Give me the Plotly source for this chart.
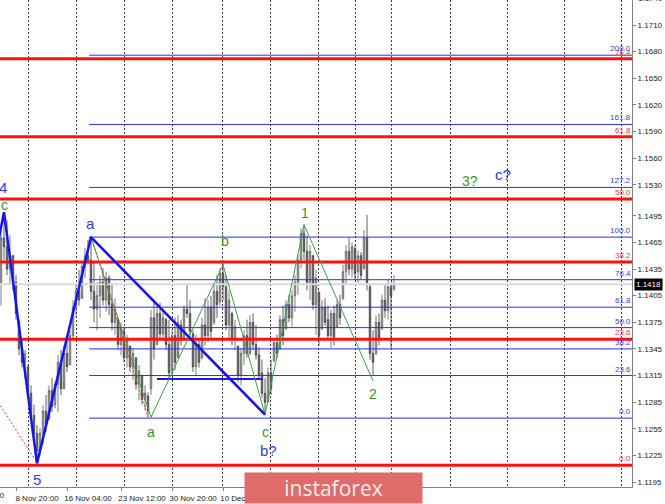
import plotly.graph_objects as go

# ---------------- data ----------------
opens = [
    1.1420, 1.1470, 1.1460, 1.1435, 1.1450, 1.1420, 1.1375, 1.1345, 1.1330, 1.1325,
    1.1295, 1.1270, 1.1250, 1.1230, 1.1250, 1.1275, 1.1266, 1.1298, 1.1282, 1.1305,
    1.1330, 1.1300, 1.1340, 1.1327, 1.1360, 1.1392, 1.1410, 1.1402, 1.1438, 1.1450,
    1.1445, 1.1410, 1.1390, 1.1405, 1.1420, 1.1400, 1.1425, 1.1395, 1.1375, 1.1378,
    1.1350, 1.1365, 1.1335, 1.1348, 1.1325, 1.1335, 1.1305, 1.1315, 1.1288, 1.1292,
    1.1300, 1.1380, 1.1350, 1.1385, 1.1362, 1.1378, 1.1350, 1.1320, 1.1360, 1.1335,
    1.1372, 1.1358, 1.1390, 1.1385, 1.1362, 1.1325, 1.1350, 1.1335, 1.1372, 1.1360,
    1.1392, 1.1375, 1.1410, 1.1398, 1.1430, 1.1415, 1.1372, 1.1385, 1.1355, 1.1348,
    1.1315, 1.1340, 1.1360, 1.1340, 1.1375, 1.1350, 1.1338, 1.1318, 1.1295, 1.1285,
    1.1318, 1.1332, 1.1352, 1.1345, 1.1378, 1.1368, 1.1395, 1.1380, 1.1405, 1.1420,
    1.1445, 1.1475, 1.1455, 1.1420, 1.1450, 1.1395, 1.1408, 1.1368, 1.1392, 1.1378,
    1.1360, 1.1385, 1.1370, 1.1395, 1.1402, 1.1432, 1.1455, 1.1435, 1.1458, 1.1432,
    1.1450, 1.1436, 1.1470, 1.1415, 1.1340, 1.1340, 1.1375, 1.1368, 1.1400, 1.1388,
    1.1415, 1.1412,
]
highs = [
    1.1479, 1.1499, 1.1490, 1.1473, 1.1451, 1.1428, 1.1378, 1.1355, 1.1344, 1.1327,
    1.1304, 1.1282, 1.1259, 1.1256, 1.1282, 1.1293, 1.1304, 1.1312, 1.1308, 1.1338,
    1.1344, 1.1349, 1.1361, 1.1366, 1.1400, 1.1417, 1.1434, 1.1443, 1.1459, 1.1468,
    1.1471, 1.1443, 1.1420, 1.1428, 1.1436, 1.1432, 1.1428, 1.1417, 1.1402, 1.1380,
    1.1375, 1.1369, 1.1361, 1.1349, 1.1346, 1.1335, 1.1327, 1.1316, 1.1304, 1.1296,
    1.1389, 1.1400, 1.1394, 1.1397, 1.1389, 1.1380, 1.1378, 1.1366, 1.1380, 1.1383,
    1.1378, 1.1394, 1.1417, 1.1400, 1.1366, 1.1361, 1.1355, 1.1380, 1.1402, 1.1400,
    1.1405, 1.1417, 1.1428, 1.1436, 1.1442, 1.1428, 1.1411, 1.1387, 1.1378, 1.1349,
    1.1346, 1.1366, 1.1378, 1.1383, 1.1385, 1.1372, 1.1347, 1.1333, 1.1312, 1.1324,
    1.1333, 1.1357, 1.1361, 1.1383, 1.1394, 1.1400, 1.1406, 1.1411, 1.1428, 1.1451,
    1.1481, 1.1485, 1.1473, 1.1462, 1.1451, 1.1434, 1.1411, 1.1400, 1.1402, 1.1394,
    1.1389, 1.1394, 1.1400, 1.1406, 1.1440, 1.1462, 1.1470, 1.1465, 1.1462, 1.1456,
    1.1454, 1.1479, 1.1496, 1.1417, 1.1366, 1.1383, 1.1385, 1.1406, 1.1417, 1.1423,
    1.1420, 1.1428,
]
lows = [
    1.1394, 1.1445, 1.1428, 1.1417, 1.1411, 1.1378, 1.1338, 1.1324, 1.1312, 1.1290,
    1.1265, 1.1242, 1.1217, 1.1225, 1.1237, 1.1251, 1.1265, 1.1274, 1.1278, 1.1274,
    1.1293, 1.1308, 1.1319, 1.1327, 1.1355, 1.1380, 1.1394, 1.1406, 1.1425, 1.1440,
    1.1400, 1.1375, 1.1366, 1.1380, 1.1394, 1.1387, 1.1383, 1.1366, 1.1361, 1.1344,
    1.1338, 1.1330, 1.1324, 1.1319, 1.1310, 1.1299, 1.1287, 1.1282, 1.1276, 1.1268,
    1.1293, 1.1333, 1.1349, 1.1355, 1.1357, 1.1344, 1.1310, 1.1316, 1.1321, 1.1342,
    1.1349, 1.1355, 1.1380, 1.1361, 1.1319, 1.1315, 1.1324, 1.1333, 1.1349, 1.1353,
    1.1357, 1.1372, 1.1380, 1.1394, 1.1400, 1.1366, 1.1355, 1.1349, 1.1344, 1.1308,
    1.1304, 1.1327, 1.1335, 1.1338, 1.1344, 1.1333, 1.1310, 1.1290, 1.1273, 1.1285,
    1.1293, 1.1330, 1.1335, 1.1344, 1.1349, 1.1366, 1.1375, 1.1370, 1.1387, 1.1406,
    1.1436, 1.1445, 1.1411, 1.1400, 1.1389, 1.1361, 1.1349, 1.1366, 1.1371, 1.1355,
    1.1346, 1.1349, 1.1369, 1.1372, 1.1400, 1.1417, 1.1428, 1.1425, 1.1423, 1.1420,
    1.1423, 1.1434, 1.1411, 1.1333, 1.1316, 1.1338, 1.1349, 1.1366, 1.1380, 1.1378,
    1.1346, 1.1411,
]
closes = [
    1.1470, 1.1460, 1.1435, 1.1450, 1.1420, 1.1385, 1.1345, 1.1330, 1.1340, 1.1295,
    1.1270, 1.1250, 1.1230, 1.1250, 1.1275, 1.1260, 1.1298, 1.1280, 1.1305, 1.1330,
    1.1300, 1.1340, 1.1325, 1.1360, 1.1392, 1.1410, 1.1400, 1.1438, 1.1450, 1.1445,
    1.1410, 1.1390, 1.1405, 1.1420, 1.1400, 1.1425, 1.1395, 1.1375, 1.1390, 1.1350,
    1.1368, 1.1335, 1.1355, 1.1325, 1.1340, 1.1305, 1.1320, 1.1288, 1.1295, 1.1275,
    1.1380, 1.1345, 1.1385, 1.1362, 1.1380, 1.1350, 1.1318, 1.1360, 1.1330, 1.1375,
    1.1355, 1.1390, 1.1385, 1.1365, 1.1325, 1.1350, 1.1330, 1.1372, 1.1360, 1.1392,
    1.1365, 1.1410, 1.1395, 1.1430, 1.1415, 1.1372, 1.1400, 1.1355, 1.1370, 1.1315,
    1.1340, 1.1360, 1.1340, 1.1375, 1.1350, 1.1338, 1.1315, 1.1295, 1.1285, 1.1318,
    1.1300, 1.1352, 1.1340, 1.1378, 1.1360, 1.1395, 1.1380, 1.1405, 1.1420, 1.1445,
    1.1475, 1.1455, 1.1420, 1.1455, 1.1395, 1.1425, 1.1360, 1.1392, 1.1375, 1.1360,
    1.1385, 1.1355, 1.1395, 1.1380, 1.1432, 1.1455, 1.1435, 1.1460, 1.1430, 1.1450,
    1.1428, 1.1470, 1.1420, 1.1340, 1.1330, 1.1375, 1.1355, 1.1400, 1.1388, 1.1415,
    1.1405, 1.1418,
]
bars = list(range(len(opens)))
last_price = 1.1418

# x-axis time labels (bar index where each label sits)
time_tick_bars = [5, 22, 40, 57, 74]
time_tick_labels = ["8 Nov 20:00", "16 Nov 04:00", "23 Nov 12:00", "30 Nov 20:00", "10 Dec 04:00"]
cut_label = "1 Nov 12:00"
grid_bars = [9, 25.3, 41.3, 57.3, 73.7, 89.7, 105.7, 118, 130.3, 149.7, 168.7, 187.7, 206.7]

# price axis labels
price_ticks = [1.1710, 1.1680, 1.1650, 1.1620, 1.1590, 1.1560, 1.1530, 1.1495,
               1.1465, 1.1435, 1.1405, 1.1375, 1.1345, 1.1315, 1.1285, 1.1255, 1.1225, 1.1195]
top_cut_tick = 1.1740

# Fibonacci levels
red_fib_labels = ["0.0", "23.6", "38.2", "50.0", "61.8", "76.4"]
red_fib_prices = [1.1214, 1.1356, 1.1443, 1.1514, 1.1584, 1.1672]
blue_fib_labels = ["0.0", "23.6", "38.2", "50.0", "61.8", "76.4", "100.0", "127.2", "161.8", "200.0"]
blue_fib_prices = [1.1267, 1.1315, 1.1345, 1.1369, 1.1392, 1.1423, 1.1471, 1.1527, 1.1598, 1.1676]
blue_fib_start_bar = 29.4

# wave lines
blue_wave_bars = [-1, 1, 12, 30, 88]
blue_wave_prices = [1.1465, 1.1499, 1.1216, 1.1471, 1.1271]
green_wave_bars = [30, 50, 74, 88, 101, 124]
green_wave_prices = [1.1471, 1.1268, 1.1440, 1.1271, 1.1485, 1.1309]
red_dot1_bars = [30, 49]
red_dot1_prices = [1.1471, 1.1268]
red_dot2_bars = [-1, 12]
red_dot2_prices = [1.1285, 1.1217]
blue_hline_bars = [52, 87.3]
blue_hline_price = 1.1311

# wave labels
blue_labels = ["4", "5", "a", "b?", "c?"]
blue_label_bars = [0.67, 12, 29.7, 89, 167.3]
blue_label_prices = [1.1527, 1.1198, 1.1486, 1.1231, 1.1541]
green_labels = ["c", "a", "b", "c", "1", "2", "3?"]
green_label_bars = [1.0, 50, 74.7, 88.3, 101.3, 124, 156.3]
green_label_prices = [1.1507, 1.1251, 1.1467, 1.1251, 1.1498, 1.1294, 1.1534]

# ---------------- layout constants ----------------
X_LO, X_HI = -1 / 3, 631 / 3
Y_LO, Y_HI = 1.11894, 1.17382
RED = "#ff1010"
BLUE = "#2a2aff"
GREEN = "#3a962c"
FONT = "Liberation Sans"

fig = go.Figure()

# bid line
fig.add_trace(go.Scatter(x=[X_LO, X_HI], y=[last_price, last_price], mode="lines",
                         line=dict(color="#d9d9d9", width=2), hoverinfo="skip"))

# candles
fig.add_trace(go.Candlestick(
    x=bars, open=opens, high=highs, low=lows, close=closes,
    increasing=dict(line=dict(color="#5e5e5e", width=0.8), fillcolor="#b4b4b4"),
    decreasing=dict(line=dict(color="#3a3a3a", width=0.8), fillcolor="#7c7c7c"),
    whiskerwidth=0, hoverinfo="skip"))

# red fib lines
for p in red_fib_prices:
    fig.add_trace(go.Scatter(x=[X_LO, X_HI], y=[p, p], mode="lines",
                             line=dict(color=RED, width=3), hoverinfo="skip"))
# blue fib lines
for p in blue_fib_prices:
    fig.add_trace(go.Scatter(x=[blue_fib_start_bar, X_HI], y=[p, p], mode="lines",
                             line=dict(color=BLUE, width=1), hoverinfo="skip"))

# blue horizontal segment
fig.add_trace(go.Scatter(x=blue_hline_bars, y=[blue_hline_price] * 2, mode="lines",
                         line=dict(color="#1a1aee", width=2), hoverinfo="skip"))

# red dotted lines
for xs, ys in [(red_dot1_bars, red_dot1_prices), (red_dot2_bars, red_dot2_prices)]:
    fig.add_trace(go.Scatter(x=xs, y=ys, mode="lines",
                             line=dict(color="#ff3030", width=1, dash="2px,2px"), hoverinfo="skip"))

# green zigzag
fig.add_trace(go.Scatter(x=green_wave_bars, y=green_wave_prices, mode="lines",
                         line=dict(color="#3f9f3f", width=1), hoverinfo="skip"))
# blue zigzag
fig.add_trace(go.Scatter(x=blue_wave_bars, y=blue_wave_prices, mode="lines",
                         line=dict(color="#1414f0", width=2.5), hoverinfo="skip"))

annotations = []
for t, xb, yp in zip(blue_labels, blue_label_bars, blue_label_prices):
    annotations.append(dict(x=xb, y=yp, xref="x", yref="y", text=t, showarrow=False,
                            font=dict(family=FONT, size=15, color="#2b3cf0")))
for t, xb, yp in zip(green_labels, green_label_bars, green_label_prices):
    annotations.append(dict(x=xb, y=yp, xref="x", yref="y", text=t, showarrow=False,
                            font=dict(family=FONT, size=14, color=GREEN)))

for t, p in zip(red_fib_labels, red_fib_prices):
    annotations.append(dict(x=1, y=p, xref="paper", yref="y", text=t, showarrow=False,
                            xanchor="right", yanchor="bottom", borderpad=0, yshift=1,
                            font=dict(family=FONT, size=8, color="#f03a3a")))
for t, p in zip(blue_fib_labels, blue_fib_prices):
    annotations.append(dict(x=1, y=p, xref="paper", yref="y", text=t, showarrow=False,
                            xanchor="right", yanchor="bottom", borderpad=0, yshift=1,
                            font=dict(family=FONT, size=8, color="#3a3af0")))

# current price box
annotations.append(dict(x=1, y=last_price, xref="paper", yref="y", text=f"{last_price:.4f}",
                        showarrow=False, xanchor="left", yanchor="middle", xshift=2,
                        bgcolor="black", borderpad=1,
                        font=dict(family=FONT, size=8, color="white")))
# partially visible top price label
annotations.append(dict(x=1, y=1 + (top_cut_tick - Y_HI) / (Y_HI - Y_LO), xref="paper", yref="paper",
                        text=f"{top_cut_tick:.4f}", showarrow=False, xanchor="left", yanchor="middle",
                        xshift=4, font=dict(family=FONT, size=8, color="#222")))
# partially visible first time label
annotations.append(dict(x=7 / 632, y=0, xref="paper", yref="paper", text=cut_label,
                        showarrow=False, xanchor="right", yanchor="top", yshift=-2,
                        font=dict(family=FONT, size=8, color="#222")))
# watermark
annotations.append(dict(x=333 / 632, y=-1 / 487, xref="paper", yref="paper", text="instaforex",
                        showarrow=False, xanchor="center", yanchor="middle",
                        width=177, height=30, bgcolor="#e06b6b", borderpad=0,
                        font=dict(family="Open Sans", size=21, color="#f7eded")))

fig.update_layout(
    width=665, height=504,
    margin=dict(l=0, r=33, t=0, b=17),
    paper_bgcolor="white", plot_bgcolor="white",
    showlegend=False, hovermode=False,
    annotations=annotations,
    xaxis=dict(
        range=[X_LO, X_HI], rangeslider=dict(visible=False),
        showgrid=False, zeroline=False, showline=True, linecolor="#808080", linewidth=1,
        ticks="outside", ticklen=3, tickcolor="#808080",
        tickmode="array", tickvals=time_tick_bars, ticktext=time_tick_labels,
        ticklabelshift=21,
        tickfont=dict(family=FONT, size=8, color="#222"),
        minor=dict(tickmode="array", tickvals=grid_bars, showgrid=True,
                   gridcolor="#3c3c3c", griddash="2px,2px", gridwidth=1, ticks=""),
    ),
    yaxis=dict(
        side="right", range=[Y_LO, Y_HI],
        showgrid=False, zeroline=False, showline=True, linecolor="#808080", linewidth=1,
        ticks="outside", ticklen=3, tickcolor="#808080",
        tickmode="array", tickvals=price_ticks, ticktext=[f"{v:.4f}" for v in price_ticks],
        tickfont=dict(family=FONT, size=8, color="#222"),
    ),
)

fig.write_html("out.html", config={"displayModeBar": False},
               post_script="document.body.style.margin='0';document.body.style.overflow='hidden';")
